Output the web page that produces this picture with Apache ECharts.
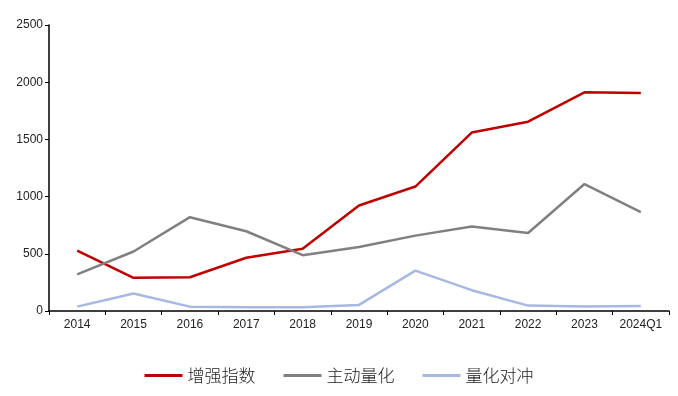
<!DOCTYPE html>
<html><head><meta charset="utf-8">
<script src="https://cdn.jsdelivr.net/npm/echarts@6/dist/echarts.min.js"></script>
<style>html,body{margin:0;padding:0;background:#fff}#c{width:678px;height:396px}</style>
</head><body><div id="c"></div>
<script>
var categories = ['2014','2015','2016','2017','2018','2019','2020','2021','2022','2023','2024Q1'];
var enhanced = [528, 290, 295, 465, 544, 922, 1088, 1560, 1655, 1912, 1905];
var active = [320, 520, 820, 697, 488, 560, 659, 738, 682, 1110, 865];
var hedge = [38, 153, 38, 32, 32, 53, 353, 182, 47, 40, 44];
var seriesNames = ['增强指数', '主动量化', '量化对冲'];
var yTicks = {min: 0, max: 2500, interval: 500};

var chart = echarts.init(document.getElementById('c'));
function mk(name, data, color) {
  return {name: name, type: 'line', data: data, symbol: 'none',
    lineStyle: {color: color, width: 2.5}, itemStyle: {color: color}};
}
chart.setOption({
  animation: false,
  grid: {left: 49, right: 9, top: 25, bottom: 85},
  legend: {bottom: 7, left: 'center', itemWidth: 38, itemHeight: 3, itemGap: 28, icon: 'rect',
    textStyle: {fontFamily: 'Noto Sans CJK SC', fontSize: 17, fontWeight: 300, color: '#222'},
    data: seriesNames},
  xAxis: {type: 'category', data: categories, boundaryGap: true,
    axisLine: {lineStyle: {color: '#000', width: 1.5}},
    axisTick: {show: true, length: 4, lineStyle: {color: '#000'}},
    axisLabel: {color: '#222', fontFamily: 'Liberation Sans', fontSize: 12, margin: 8}},
  yAxis: {type: 'value', min: yTicks.min, max: yTicks.max, interval: yTicks.interval,
    splitLine: {show: false},
    axisLine: {show: true, lineStyle: {color: '#000', width: 1.5}},
    axisTick: {show: true, length: 4, lineStyle: {color: '#000'}},
    axisLabel: {color: '#222', fontFamily: 'Liberation Sans', fontSize: 12, margin: 6,
      formatter: function (v) { return String(v); }}},
  series: [
    mk(seriesNames[0], enhanced, '#C00000'),
    mk(seriesNames[1], active, '#808080'),
    mk(seriesNames[2], hedge, '#A6B8E3')
  ]
});
</script></body></html>
